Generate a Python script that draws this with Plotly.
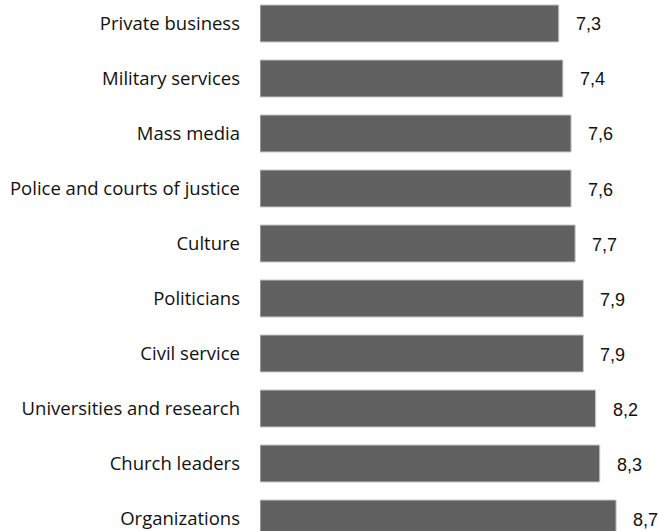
import plotly.graph_objects as go

# Average scores by sector, listed top to bottom
categories = [
    "Private business",
    "Military services",
    "Mass media",
    "Police and courts of justice",
    "Culture",
    "Politicians",
    "Civil service",
    "Universities and research",
    "Church leaders",
    "Organizations",
]
values = [7.3, 7.4, 7.6, 7.6, 7.7, 7.9, 7.9, 8.2, 8.3, 8.7]

# Decimal comma labels
value_labels = [f"{v:.1f}".replace(".", ",") for v in values]

fig = go.Figure(
    go.Bar(
        x=values,
        y=categories,
        orientation="h",
        marker=dict(color="#616161", line=dict(color="#c8c8c8", width=1)),
        hoverinfo="skip",
    )
)

for cat, v, lab in zip(categories, values, value_labels):
    fig.add_annotation(
        x=v, y=cat, text=lab, showarrow=False,
        xanchor="left", yanchor="middle", xshift=15, yshift=-1,
        font=dict(family="Liberation Sans, Arial, sans-serif", size=18, color="#111111"),
    )

fig.update_layout(
    width=659,
    height=531,
    margin=dict(l=260, r=0, t=0, b=0),
    paper_bgcolor="white",
    plot_bgcolor="white",
    bargap=0.327,
    showlegend=False,
)
fig.update_xaxes(range=[0, 399 / 40.93], visible=False)
fig.update_yaxes(
    categoryorder="array",
    categoryarray=categories,
    range=[9.227, -0.427],
    showgrid=False,
    zeroline=False,
    showline=False,
    ticks="",
    ticklabelstandoff=19,
    tickfont=dict(family="Open Sans, sans-serif", size=18.5, color="#111111"),
)

fig.write_html("out.html")
